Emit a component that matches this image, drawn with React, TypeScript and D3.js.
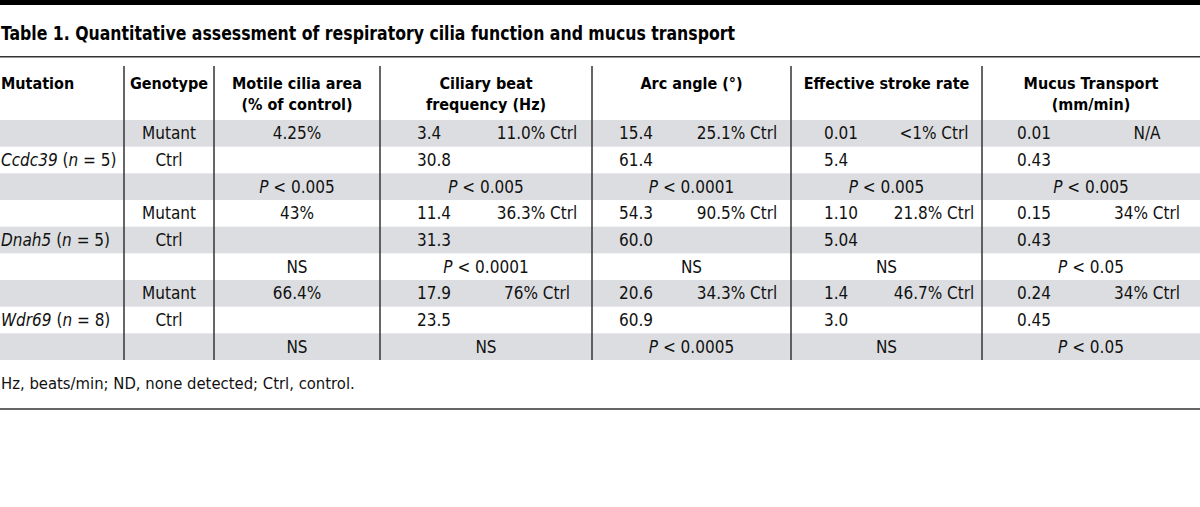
import React from "react";
import * as d3 from "d3";

const genes = ["Ccdc39", "Dnah5", "Wdr69"];
const sampleN = [5, 5, 8];
const genotypes = ["Mutant", "Ctrl", ""];

const motileArea = ["4.25%", "43%", "66.4%"];
const motileP = ["P < 0.005", "NS", "NS"];

const cbfMutant = ["3.4", "11.4", "17.9"];
const cbfPct = ["11.0% Ctrl", "36.3% Ctrl", "76% Ctrl"];
const cbfCtrl = ["30.8", "31.3", "23.5"];
const cbfP = ["P < 0.005", "P < 0.0001", "NS"];

const arcMutant = ["15.4", "54.3", "20.6"];
const arcPct = ["25.1% Ctrl", "90.5% Ctrl", "34.3% Ctrl"];
const arcCtrl = ["61.4", "60.0", "60.9"];
const arcP = ["P < 0.0001", "NS", "P < 0.0005"];

const esrMutant = ["0.01", "1.10", "1.4"];
const esrPct = ["<1% Ctrl", "21.8% Ctrl", "46.7% Ctrl"];
const esrCtrl = ["5.4", "5.04", "3.0"];
const esrP = ["P < 0.005", "NS", "NS"];

const mucusMutant = ["0.01", "0.15", "0.24"];
const mucusPct = ["N/A", "34% Ctrl", "34% Ctrl"];
const mucusCtrl = ["0.43", "0.43", "0.45"];
const mucusP = ["P < 0.005", "P < 0.05", "P < 0.05"];

const headers = [
  ["Mutation"],
  ["Genotype"],
  ["Motile cilia area", "(% of control)"],
  ["Ciliary beat", "frequency (Hz)"],
  ["Arc angle (°)"],
  ["Effective stroke rate"],
  ["Mucus Transport", "(mm/min)"],
];

const title = "Table 1. Quantitative assessment of respiratory cilia function and mucus transport";
const footnote = "Hz, beats/min; ND, none detected; Ctrl, control.";

const W = 1200;
const H = 507;
const FONT = "'DejaVu Sans Condensed', 'DejaVu Sans', sans-serif";
const colEdges = [0, 124, 214, 380, 592, 791, 982, 1200];
// left inset for first sub-value and center of second sub-value in split columns (by column index)
const subLeft = [0, 0, 0, 37, 27, 33, 35];
const subCenter = [0, 0, 0, 537, 737, 934, 1147];

function PText({ v, x, y, anchor }: { v: string; x: number; y: number; anchor: string }) {
  if (v.startsWith("P")) {
    return (
      <text x={x} y={y} textAnchor={anchor} dominantBaseline="central">
        <tspan fontStyle="italic">P</tspan>
        {v.slice(1)}
      </text>
    );
  }
  return (
    <text x={x} y={y} textAnchor={anchor} dominantBaseline="central">
      {v}
    </text>
  );
}

export default function App() {
  const nRows = genes.length * 3;
  const y = d3.scaleLinear().domain([0, nRows]).range([120, 360]);
  const rowH = y(1) - y(0);
  const colCenter = (i: number) => (colEdges[i] + colEdges[i + 1]) / 2;

  const splitCols = [
    { c: 3, m: cbfMutant, pct: cbfPct, ctrl: cbfCtrl, p: cbfP },
    { c: 4, m: arcMutant, pct: arcPct, ctrl: arcCtrl, p: arcP },
    { c: 5, m: esrMutant, pct: esrPct, ctrl: esrCtrl, p: esrP },
    { c: 6, m: mucusMutant, pct: mucusPct, ctrl: mucusCtrl, p: mucusP },
  ];

  const rows = d3.range(nRows);

  return (
    <svg width={W} height={H} style={{ position: "absolute", left: 0, top: 0, background: "#fff" }} fontFamily={FONT}>
      <rect x={0} y={0} width={W} height={5} fill="#000" />
      <text
        x={1}
        y={33}
        fontSize={19}
        fontWeight="bold"
        dominantBaseline="central"
        fill="#000"
        textLength={734}
        lengthAdjust="spacingAndGlyphs"
      >
        {title}
      </text>
      <line x1={0} x2={W} y1={56.7} y2={56.7} stroke="#333" strokeWidth={1.5} />

      {rows.map((r) =>
        r % 2 === 0 ? <rect key={r} x={0} y={y(r)} width={W} height={rowH} fill="#dcdde0" /> : null
      )}

      {colEdges.slice(1, -1).map((x, i) => (
        <line key={i} x1={x} x2={x} y1={66} y2={360} stroke="#333" strokeWidth={1.5} />
      ))}

      <g fontSize={16} fontWeight="bold" fill="#000">
        {headers.map((h, i) =>
          h.map((line, j) => (
            <text
              key={i + "-" + j}
              x={i === 0 ? 1 : colCenter(i)}
              y={83 + j * 21}
              textAnchor={i === 0 ? "start" : "middle"}
              dominantBaseline="central"
            >
              {line}
            </text>
          ))
        )}
      </g>

      <g fontSize={17} fill="#111">
        {genes.map((g, gi) => {
          const r0 = gi * 3;
          const cy = (r: number) => y(r0 + r) + rowH / 2;
          return (
            <g key={g}>
              <text x={1} y={cy(1)} dominantBaseline="central">
                <tspan fontStyle="italic">{g}</tspan>
                {" ("}
                <tspan fontStyle="italic">n</tspan>
                {" = " + sampleN[gi] + ")"}
              </text>
              {genotypes.map((gt, k) =>
                gt ? (
                  <text key={k} x={colCenter(1)} y={cy(k)} textAnchor="middle" dominantBaseline="central">
                    {gt}
                  </text>
                ) : null
              )}
              <text x={colCenter(2)} y={cy(0)} textAnchor="middle" dominantBaseline="central">
                {motileArea[gi]}
              </text>
              <PText v={motileP[gi]} x={colCenter(2)} y={cy(2)} anchor="middle" />
              {splitCols.map((s) => (
                <g key={s.c}>
                  <text x={colEdges[s.c] + subLeft[s.c]} y={cy(0)} dominantBaseline="central">
                    {s.m[gi]}
                  </text>
                  <text x={subCenter[s.c]} y={cy(0)} textAnchor="middle" dominantBaseline="central">
                    {s.pct[gi]}
                  </text>
                  <text x={colEdges[s.c] + subLeft[s.c]} y={cy(1)} dominantBaseline="central">
                    {s.ctrl[gi]}
                  </text>
                  <PText v={s.p[gi]} x={colCenter(s.c)} y={cy(2)} anchor="middle" />
                </g>
              ))}
            </g>
          );
        })}
      </g>

      <text x={1} y={383} fontSize={16.5} fill="#111" dominantBaseline="central">
        {footnote}
      </text>
      <line x1={0} x2={W} y1={409} y2={409} stroke="#666" strokeWidth={2} />
    </svg>
  );
}
